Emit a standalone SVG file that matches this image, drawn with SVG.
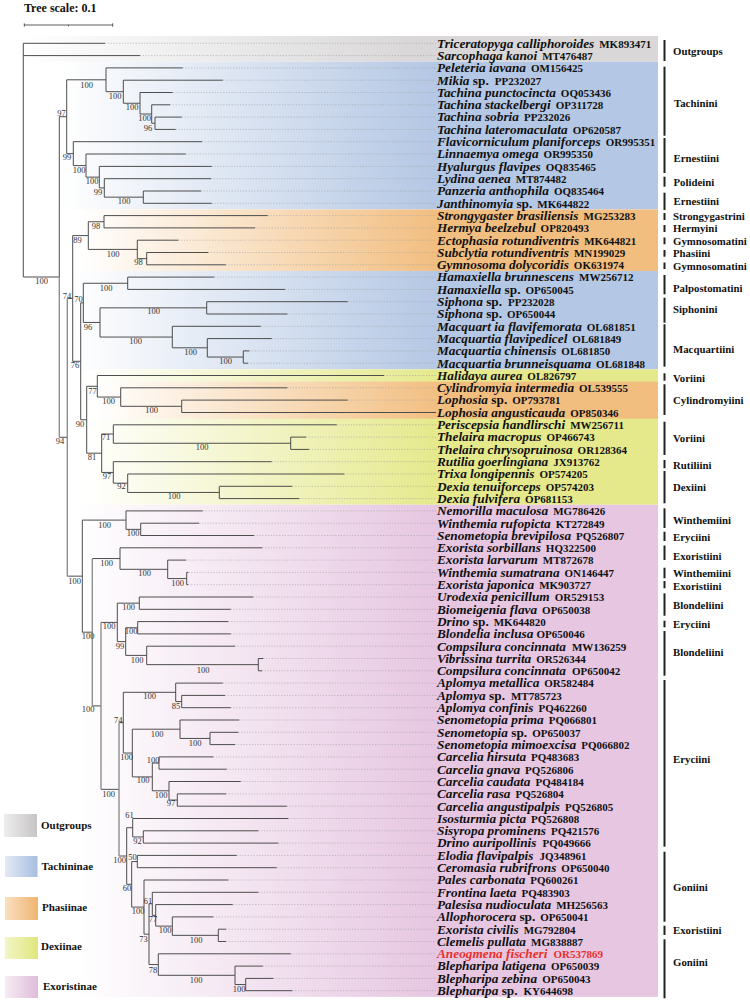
<svg xmlns="http://www.w3.org/2000/svg" width="750" height="1003" viewBox="0 0 750 1003">
<defs>
<linearGradient id="gGray" x1="0" y1="0" x2="1" y2="0"><stop offset="0" stop-color="#ffffff"/><stop offset="0.62" stop-color="#d9d7d7"/><stop offset="1" stop-color="#d9d7d7"/></linearGradient>
<linearGradient id="gBlue" x1="0" y1="0" x2="1" y2="0"><stop offset="0" stop-color="#ffffff"/><stop offset="0.63" stop-color="#b4c7e4"/><stop offset="1" stop-color="#b4c7e4"/></linearGradient>
<linearGradient id="gOrange" x1="0" y1="0" x2="1" y2="0"><stop offset="0" stop-color="#ffffff"/><stop offset="0.62" stop-color="#f2be80"/><stop offset="1" stop-color="#f2be80"/></linearGradient>
<linearGradient id="gYellow" x1="0" y1="0" x2="1" y2="0"><stop offset="0" stop-color="#ffffff"/><stop offset="0.62" stop-color="#e5e98b"/><stop offset="1" stop-color="#e5e98b"/></linearGradient>
<linearGradient id="gPink" x1="0" y1="0" x2="1" y2="0"><stop offset="0" stop-color="#ffffff"/><stop offset="0.62" stop-color="#e6c6e1"/><stop offset="1" stop-color="#e6c6e1"/></linearGradient>
<linearGradient id="sGray" x1="0" y1="0" x2="1" y2="0"><stop offset="0" stop-color="#efeeee"/><stop offset="1" stop-color="#c6c4c6"/></linearGradient>
<linearGradient id="sBlue" x1="0" y1="0" x2="1" y2="0"><stop offset="0" stop-color="#e3eaf5"/><stop offset="1" stop-color="#a8bee0"/></linearGradient>
<linearGradient id="sOrange" x1="0" y1="0" x2="1" y2="0"><stop offset="0" stop-color="#fae0c2"/><stop offset="1" stop-color="#efb470"/></linearGradient>
<linearGradient id="sYellow" x1="0" y1="0" x2="1" y2="0"><stop offset="0" stop-color="#f3f5c8"/><stop offset="1" stop-color="#e0e67c"/></linearGradient>
<linearGradient id="sPink" x1="0" y1="0" x2="1" y2="0"><stop offset="0" stop-color="#f6ecf4"/><stop offset="1" stop-color="#dfbcd9"/></linearGradient>
<style>
.br{fill:none;stroke:#4d4d4d;stroke-width:1}
.lt{fill:none;stroke:#8f8f8f;stroke-width:1.4}
.dt{fill:none;stroke:#a0a0a0;stroke-width:0.6;stroke-dasharray:1.2 1.6}
.bs{font-family:"Liberation Serif",serif;font-size:8.5px;fill:#333;text-anchor:middle}
.lf{font-family:"Liberation Serif",serif;font-weight:bold;fill:#111}
.n{font-style:italic;font-size:13.3px}
.u{font-size:13.3px}
.a{font-size:11px}
.red{fill:#e8302a}
.tr{font-family:"Liberation Serif",serif;font-weight:bold;font-size:10.8px;fill:#111}
.bar{stroke:#222;stroke-width:2;fill:none}
.lg{font-family:"Liberation Serif",serif;font-weight:bold;font-size:11px;fill:#111}
</style>
</defs>
<rect width="750" height="1003" fill="#ffffff"/>

<g id="scale">
<text x="24" y="11.7" class="lg" style="font-size:12px">Tree scale: 0.1</text>
<path d="M24.3 25 H112.7 M24.3 23.3 V26.7 M112.7 23.3 V26.7 M68.5 25 V26.3" stroke="#333" stroke-width="0.8" fill="none"/>
</g>

<g id="bands">
<rect x="20" y="36" width="638" height="25.75" fill="url(#gGray)"/>
<rect x="60" y="61.75" width="598" height="147.7" fill="url(#gBlue)"/>
<rect x="80" y="209.45" width="578" height="61.5" fill="url(#gOrange)"/>
<rect x="72" y="270.95" width="586" height="98.4" fill="url(#gBlue)"/>
<rect x="85" y="369.35" width="573" height="135.4" fill="url(#gYellow)"/>
<rect x="95" y="381.65" width="563" height="37" fill="url(#gOrange)"/>
<rect x="78" y="504.75" width="580" height="492.1" fill="url(#gPink)"/>
</g>

<g id="leaders">
<path class="dt" d="M105 43.3H436M140 55.6H436M182.7 67.9H436M222.7 80.2H436M172.7 92.5H436M170 104.8H436M181.7 117.1H436M175.7 129.4H436M202 141.7H436M185.7 154H436M211.7 166.4H436M211 178.7H436M201 191H436M211.7 203.3H436M267.7 215.6H436M255 227.9H436M178.3 240.2H436M208.3 252.5H436M225.7 264.8H436M214.3 277.1H436M285 289.4H436M347.7 301.7H436M287.3 314H436M260.7 326.3H436M271.7 338.6H436M249.3 350.9H436M248 363.2H436M384 375.5H436M287.3 387.8H436M347.7 400.1H436M336.7 424.8H436M306 437.1H436M309 449.4H436M271.7 461.7H436M344.3 474H436M292.3 486.3H436M299.3 498.6H436M202.7 510.9H436M199 523.2H436M254 535.5H436M262.3 547.8H436M186 560.1H436M188.3 572.4H436M188.3 584.7H436M253.3 597H436M230.7 609.3H436M228.3 621.6H436M230.7 633.9H436M235 646.2H436M263.3 658.5H436M262 670.8H436M222.7 683.1H436M225 695.4H436M230.7 707.7H436M239.3 720H436M238.3 732.3H436M235 744.6H436M213.3 756.9H436M226.7 769.2H436M240.7 781.5H436M226 793.9H436M286.7 806.2H436M288.3 818.5H436M258.3 830.8H436M278.3 843.1H436M236.7 855.4H436M276.7 867.7H436M228.3 880H436M258.3 892.3H436M232.7 904.6H436M213.3 916.9H436M226 929.2H436M226 941.5H436M290.7 953.8H436M262.7 966.1H436M273.3 978.4H436M292.3 990.7H436"/>
</g>

<g id="connectors">
<path class="br" d="M23.3 43.3V277M23.3 43.3H105M23.3 55.6H140M23.3 277H59.3
M59.3 116.7V277M59.3 116.7H66.7M59.3 437.3H67.3
M66.7 79.8V153.65H73.3M66.7 79.8H106
M106 67.9V91.7H123.3M106 67.9H182.7
M123.3 80.2V103.25H140M123.3 80.2H222.7
M140 92.5V114H151.7M140 92.5H172.7
M151.7 104.8V123.25H155M151.7 104.8H170
M155 117.1V129.4H175.7M155 117.1H181.7
M73.3 141.7V165.6H86M73.3 141.7H202
M86 154V177.15H99.3M86 154H185.7
M99.3 166.4V187.9H104.3M99.3 166.4H211.7
M104.3 178.7V197.15H143.3M104.3 178.7H211
M143.3 191V203.3H211.7M143.3 191H201
M67.3 576.15H82.3M67.3 298.45H72.7
M72.7 235.6V361.3H80.7M72.7 235.6H88.3
M88.3 221.75V249.4H137.3M88.3 221.75H104
M104 215.6V227.9H255M104 215.6H267.7
M137.3 240.2V258.65H146.7M137.3 240.2H178.3
M146.7 252.5V264.8H225.7M146.7 252.5H208.3
M80.7 302.85V419.75H86.7M80.7 302.85H83.3
M83.3 283.25V322.45H100M83.3 283.25H127.7
M127.7 277.1V289.4H285M127.7 277.1H214.3
M100 307.85V337.05H172.3M100 307.85H206.7
M206.7 301.7V314H287.3M206.7 301.7H347.7
M172.3 326.3V347.8H207.3M172.3 326.3H260.7
M207.3 338.6V357.05H243.3M207.3 338.6H271.7
M243.3 350.9V363.2H248M243.3 350.9H249.3
M86.7 386.3V453.2H101.7M86.7 386.3H97.3
M97.3 375.5V397.05H120.7M97.3 375.5H384
M120.7 387.8V406.3H181.7M120.7 387.8H287.3
M181.7 400.1V412.5H436M181.7 400.1H347.7
M101.7 434V472.45H113.3M101.7 434H113.3
M113.3 424.8V443.25H290.7M113.3 424.8H336.7
M290.7 437.1V449.4H309M290.7 437.1H306
M113.3 461.7V483.2H127.7M113.3 461.7H271.7
M127.7 474V492.45H219.3M127.7 474H344.3
M219.3 486.3V498.6H299.3M219.3 486.3H292.3
M82.3 520.1V632.2H92.3M82.3 520.1H126
M126 510.9V529.35H140.7M126 510.9H202.7
M140.7 523.2V535.5H254M140.7 523.2H199
M92.3 705.9H101M92.3 558.55H120
M120 547.8V569.3H167.7M120 547.8H262.3
M167.7 560.1V578.55H186.7M167.7 560.1H186
M186.7 572.4V584.7H188.3M186.7 572.4H188.3
M101 789.35H119M101 622.4H117.3
M117.3 603.15V641.6H125.7M117.3 603.15H139.3
M139.3 597V609.3H230.7M139.3 597H253.3
M125.7 627.75V655.4H146.7M125.7 627.75H137.7
M137.7 621.6V633.9H230.7M137.7 621.6H228.3
M146.7 646.2V664.65H258.3M146.7 646.2H235
M258.3 658.5V670.8H262M258.3 658.5H263.3
M119 856H126.7M119 722.7H123.3
M123.3 692.3V753.05H132.3M123.3 692.3H175.7
M175.7 683.1V701.55H181.7M175.7 683.1H222.7
M181.7 695.4V707.7H230.7M181.7 695.4H225
M132.3 729.2V776.9H152.3M132.3 729.2H180
M180 720V738.45H210M180 720H239.3
M210 732.3V744.6H235M210 732.3H238.3
M152.3 763.05V790.8H169M152.3 763.05H159
M159 756.9V769.2H226.7M159 756.9H213.3
M169 781.5V800.05H177.3M169 781.5H240.7
M177.3 793.9V806.2H286.7M177.3 793.9H226
M126.7 827.7V884.3H131.7M126.7 827.7H132.7
M132.7 818.5V836.95H143.3M132.7 818.5H288.3
M143.3 830.8V843.1H278.3M143.3 830.8H258.3
M131.7 861.55V907.1H144M131.7 861.55H137.3
M137.3 855.4V867.7H276.7M137.3 855.4H236.7
M144 880V934.2H149M144 880H228.3
M149 903.8V964.55H158.3M149 903.8H152.3
M152.3 892.3V915.35H155.7M152.3 892.3H258.3
M155.7 904.6V926.1H172.3M155.7 904.6H232.7
M172.3 916.9V935.35H218.3M172.3 916.9H213.3
M218.3 929.2V941.5H226M218.3 929.2H226
M158.3 953.8V975.3H235M158.3 953.8H290.7
M235 966.1V984.55H245.7M235 966.1H262.7
M245.7 978.4V990.7H292.3M245.7 978.4H273.3"/>
<path class="lt" d="M59.3 277V437.3M67.3 298.45V576.15M92.3 558.55V705.9M101 622.4V789.35M119 722.7V856"/>
</g>

<g id="support">
<text class="bs" x="41.7" y="284">100</text>
<text class="bs" x="61.5" y="115.5">97</text>
<text class="bs" x="60" y="444">94</text>
<text class="bs" x="86.5" y="87.5">100</text>
<text class="bs" x="115" y="98.5">100</text>
<text class="bs" x="132" y="110">100</text>
<text class="bs" x="144.5" y="121">100</text>
<text class="bs" x="148" y="131">96</text>
<text class="bs" x="67" y="160">99</text>
<text class="bs" x="79" y="172.5">100</text>
<text class="bs" x="92" y="183.5">100</text>
<text class="bs" x="98" y="195">99</text>
<text class="bs" x="124" y="204">100</text>
<text class="bs" x="96" y="229">98</text>
<text class="bs" x="77.5" y="242.5">89</text>
<text class="bs" x="113" y="257">100</text>
<text class="bs" x="138.5" y="265">98</text>
<text class="bs" x="67" y="298.5">74</text>
<text class="bs" x="78.5" y="301.5">70</text>
<text class="bs" x="106" y="290.5">100</text>
<text class="bs" x="88" y="330">96</text>
<text class="bs" x="153.5" y="314">100</text>
<text class="bs" x="135.5" y="344">100</text>
<text class="bs" x="190.5" y="355">100</text>
<text class="bs" x="225.5" y="364">100</text>
<text class="bs" x="75" y="368">76</text>
<text class="bs" x="92.5" y="394">77</text>
<text class="bs" x="108.5" y="404">100</text>
<text class="bs" x="151.5" y="413">100</text>
<text class="bs" x="80" y="427">90</text>
<text class="bs" x="106" y="440">71</text>
<text class="bs" x="202" y="450">100</text>
<text class="bs" x="92" y="460">81</text>
<text class="bs" x="107" y="479">97</text>
<text class="bs" x="121.5" y="489">92</text>
<text class="bs" x="174" y="499">100</text>
<text class="bs" x="74.5" y="583.5">100</text>
<text class="bs" x="104.5" y="527.5">100</text>
<text class="bs" x="133" y="536">100</text>
<text class="bs" x="88" y="639">100</text>
<text class="bs" x="106.5" y="566">100</text>
<text class="bs" x="144.5" y="576">100</text>
<text class="bs" x="177.5" y="586">100</text>
<text class="bs" x="88" y="711.5">100</text>
<text class="bs" x="109" y="629">100</text>
<text class="bs" x="128.5" y="610">100</text>
<text class="bs" x="120" y="648.5">99</text>
<text class="bs" x="131" y="634">100</text>
<text class="bs" x="137" y="662.5">100</text>
<text class="bs" x="203" y="672.5">100</text>
<text class="bs" x="149.5" y="699">100</text>
<text class="bs" x="176" y="709">85</text>
<text class="bs" x="118.3" y="722.5">74</text>
<text class="bs" x="157" y="737">100</text>
<text class="bs" x="195" y="746">100</text>
<text class="bs" x="126.5" y="760">100</text>
<text class="bs" x="153" y="762.5">100</text>
<text class="bs" x="143" y="783">100</text>
<text class="bs" x="161" y="798">100</text>
<text class="bs" x="171" y="805.5">97</text>
<text class="bs" x="108.5" y="797">100</text>
<text class="bs" x="129.5" y="818">61</text>
<text class="bs" x="137.5" y="844">92</text>
<text class="bs" x="119.5" y="862.5">100</text>
<text class="bs" x="132.5" y="860">50</text>
<text class="bs" x="127" y="891">60</text>
<text class="bs" x="138" y="914">100</text>
<text class="bs" x="148" y="903.5">61</text>
<text class="bs" x="153" y="921.5">77</text>
<text class="bs" x="165" y="933">100</text>
<text class="bs" x="196" y="942.5">100</text>
<text class="bs" x="143.5" y="941.5">73</text>
<text class="bs" x="153" y="973">78</text>
<text class="bs" x="196" y="982.5">100</text>
<text class="bs" x="239" y="992">100</text>
</g>

<g id="leaves">
<g id="leaf01"><text class="lf" x="437" y="47.6"><tspan class="n">Triceratopyga calliphoroides</tspan><tspan class="a" dx="5">MK893471</tspan></text></g>
<g id="leaf02"><text class="lf" x="437" y="59.9"><tspan class="n">Sarcophaga kanoi</tspan><tspan class="a" dx="5">MT476487</tspan></text></g>
<g id="leaf03"><text class="lf" x="437" y="72.2"><tspan class="n">Peleteria iavana</tspan><tspan class="a" dx="5">OM156425</tspan></text></g>
<g id="leaf04"><text class="lf" x="437" y="84.5"><tspan class="n">Mikia</tspan><tspan class="u"> sp.</tspan><tspan class="a" dx="6">PP232027</tspan></text></g>
<g id="leaf05"><text class="lf" x="437" y="96.8"><tspan class="n">Tachina punctocincta</tspan><tspan class="a" dx="5">OQ053436</tspan></text></g>
<g id="leaf06"><text class="lf" x="437" y="109.1"><tspan class="n">Tachina stackelbergi</tspan><tspan class="a" dx="5">OP311728</tspan></text></g>
<g id="leaf07"><text class="lf" x="437" y="121.4"><tspan class="n">Tachina sobria</tspan><tspan class="a" dx="5">PP232026</tspan></text></g>
<g id="leaf08"><text class="lf" x="437" y="133.7"><tspan class="n">Tachina lateromaculata</tspan><tspan class="a" dx="5">OP620587</tspan></text></g>
<g id="leaf09"><text class="lf" x="437" y="146"><tspan class="n">Flavicorniculum planiforceps</tspan><tspan class="a" dx="5">OR995351</tspan></text></g>
<g id="leaf10"><text class="lf" x="437" y="158.3"><tspan class="n">Linnaemya omega</tspan><tspan class="a" dx="5">OR995350</tspan></text></g>
<g id="leaf11"><text class="lf" x="437" y="170.7"><tspan class="n">Hyalurgus flavipes</tspan><tspan class="a" dx="5">OQ835465</tspan></text></g>
<g id="leaf12"><text class="lf" x="437" y="183"><tspan class="n">Lydina aenea</tspan><tspan class="a" dx="5">MT874482</tspan></text></g>
<g id="leaf13"><text class="lf" x="437" y="195.3"><tspan class="n">Panzeria anthophila</tspan><tspan class="a" dx="5">OQ835464</tspan></text></g>
<g id="leaf14"><text class="lf" x="437" y="207.6"><tspan class="n">Janthinomyia</tspan><tspan class="u"> sp.</tspan><tspan class="a" dx="5">MK644822</tspan></text></g>
<g id="leaf15"><text class="lf" x="437" y="219.9"><tspan class="n">Strongygaster brasiliensis</tspan><tspan class="a" dx="5">MG253283</tspan></text></g>
<g id="leaf16"><text class="lf" x="437" y="232.2"><tspan class="n">Hermya beelzebul</tspan><tspan class="a" dx="5">OP820493</tspan></text></g>
<g id="leaf17"><text class="lf" x="437" y="244.5"><tspan class="n">Ectophasia rotundiventris</tspan><tspan class="a" dx="5">MK644821</tspan></text></g>
<g id="leaf18"><text class="lf" x="437" y="256.8"><tspan class="n">Subclytia rotundiventris</tspan><tspan class="a" dx="5">MN199029</tspan></text></g>
<g id="leaf19"><text class="lf" x="437" y="269.1"><tspan class="n">Gymnosoma dolycoridis</tspan><tspan class="a" dx="5">OK631974</tspan></text></g>
<g id="leaf20"><text class="lf" x="437" y="281.4"><tspan class="n">Hamaxiella brunnescens</tspan><tspan class="a" dx="5">MW256712</tspan></text></g>
<g id="leaf21"><text class="lf" x="437" y="293.7"><tspan class="n">Hamaxiella</tspan><tspan class="u"> sp.</tspan><tspan class="a" dx="5">OP650045</tspan></text></g>
<g id="leaf22"><text class="lf" x="437" y="306"><tspan class="n">Siphona</tspan><tspan class="u"> sp.</tspan><tspan class="a" dx="6">PP232028</tspan></text></g>
<g id="leaf23"><text class="lf" x="437" y="318.3"><tspan class="n">Siphona</tspan><tspan class="u"> sp.</tspan><tspan class="a" dx="5">OP650044</tspan></text></g>
<g id="leaf24"><text class="lf" x="437" y="330.6"><tspan class="n">Macquart ia flavifemorata</tspan><tspan class="a" dx="5">OL681851</tspan></text></g>
<g id="leaf25"><text class="lf" x="437" y="342.9"><tspan class="n">Macquartia flavipedicel</tspan><tspan class="a" dx="5">OL681849</tspan></text></g>
<g id="leaf26"><text class="lf" x="437" y="355.2"><tspan class="n">Macquartia chinensis</tspan><tspan class="a" dx="5">OL681850</tspan></text></g>
<g id="leaf27"><text class="lf" x="437" y="367.5"><tspan class="n">Macquartia brunneisquama</tspan><tspan class="a" dx="5">OL681848</tspan></text></g>
<g id="leaf28"><text class="lf" x="437" y="379.8"><tspan class="n">Halidaya aurea</tspan><tspan class="a" dx="5">OL826797</tspan></text></g>
<g id="leaf29"><text class="lf" x="437" y="392.1"><tspan class="n">Cylindromyia intermedia</tspan><tspan class="a" dx="5">OL539555</tspan></text></g>
<g id="leaf30"><text class="lf" x="437" y="404.4"><tspan class="n">Lophosia</tspan><tspan class="u"> sp.</tspan><tspan class="a" dx="5">OP793781</tspan></text></g>
<g id="leaf31"><text class="lf" x="437" y="416.8"><tspan class="n">Lophosia angusticauda</tspan><tspan class="a" dx="5">OP850346</tspan></text></g>
<g id="leaf32"><text class="lf" x="437" y="429.1"><tspan class="n">Periscepsia handlirschi</tspan><tspan class="a" dx="5">MW256711</tspan></text></g>
<g id="leaf33"><text class="lf" x="437" y="441.4"><tspan class="n">Thelaira macropus</tspan><tspan class="a" dx="5">OP466743</tspan></text></g>
<g id="leaf34"><text class="lf" x="437" y="453.7"><tspan class="n">Thelaira chrysopruinosa</tspan><tspan class="a" dx="5">OR128364</tspan></text></g>
<g id="leaf35"><text class="lf" x="437" y="466"><tspan class="n">Rutilia goerlingiana</tspan><tspan class="a" dx="5">JX913762</tspan></text></g>
<g id="leaf36"><text class="lf" x="437" y="478.3"><tspan class="n">Trixa longipennis</tspan><tspan class="a" dx="5">OP574205</tspan></text></g>
<g id="leaf37"><text class="lf" x="437" y="490.6"><tspan class="n">Dexia tenuiforceps</tspan><tspan class="a" dx="5">OP574203</tspan></text></g>
<g id="leaf38"><text class="lf" x="437" y="502.9"><tspan class="n">Dexia fulvifera</tspan><tspan class="a" dx="5">OP681153</tspan></text></g>
<g id="leaf39"><text class="lf" x="437" y="515.2"><tspan class="n">Nemorilla maculosa</tspan><tspan class="a" dx="5">MG786426</tspan></text></g>
<g id="leaf40"><text class="lf" x="437" y="527.5"><tspan class="n">Winthemia rufopicta</tspan><tspan class="a" dx="5">KT272849</tspan></text></g>
<g id="leaf41"><text class="lf" x="437" y="539.8"><tspan class="n">Senometopia brevipilosa</tspan><tspan class="a" dx="5">PQ526807</tspan></text></g>
<g id="leaf42"><text class="lf" x="437" y="552.1"><tspan class="n">Exorista sorbillans</tspan><tspan class="a" dx="5">HQ322500</tspan></text></g>
<g id="leaf43"><text class="lf" x="437" y="564.4"><tspan class="n">Exorista larvarum</tspan><tspan class="a" dx="5">MT872678</tspan></text></g>
<g id="leaf44"><text class="lf" x="437" y="576.7"><tspan class="n">Winthemia sumatrana</tspan><tspan class="a" dx="5">ON146447</tspan></text></g>
<g id="leaf45"><text class="lf" x="437" y="589"><tspan class="n">Exorista japonica</tspan><tspan class="a" dx="5">MK903727</tspan></text></g>
<g id="leaf46"><text class="lf" x="437" y="601.3"><tspan class="n">Urodexia penicillum</tspan><tspan class="a" dx="5">OR529153</tspan></text></g>
<g id="leaf47"><text class="lf" x="437" y="613.6"><tspan class="n">Biomeigenia flava</tspan><tspan class="a" dx="5">OP650038</tspan></text></g>
<g id="leaf48"><text class="lf" x="437" y="625.9"><tspan class="n">Drino</tspan><tspan class="u"> sp.</tspan><tspan class="a" dx="5">MK644820</tspan></text></g>
<g id="leaf49"><text class="lf" x="437" y="638.2"><tspan class="n">Blondelia inclusa</tspan><tspan class="a" dx="3">OP650046</tspan></text></g>
<g id="leaf50"><text class="lf" x="437" y="650.5"><tspan class="n">Compsilura concinnata</tspan><tspan class="a" dx="6">MW136259</tspan></text></g>
<g id="leaf51"><text class="lf" x="437" y="662.8"><tspan class="n">Vibrissina turrita</tspan><tspan class="a" dx="5">OR526344</tspan></text></g>
<g id="leaf52"><text class="lf" x="437" y="675.1"><tspan class="n">Compsilura concinnata</tspan><tspan class="a" dx="6">OP650042</tspan></text></g>
<g id="leaf53"><text class="lf" x="437" y="687.4"><tspan class="n">Aplomya metallica</tspan><tspan class="a" dx="5">OR582484</tspan></text></g>
<g id="leaf54"><text class="lf" x="437" y="699.7"><tspan class="n">Aplomya</tspan><tspan class="u"> sp.</tspan><tspan class="a" dx="6">MT785723</tspan></text></g>
<g id="leaf55"><text class="lf" x="437" y="712"><tspan class="n">Aplomya confinis</tspan><tspan class="a" dx="5">PQ462260</tspan></text></g>
<g id="leaf56"><text class="lf" x="437" y="724.3"><tspan class="n">Senometopia prima</tspan><tspan class="a" dx="5">PQ066801</tspan></text></g>
<g id="leaf57"><text class="lf" x="437" y="736.6"><tspan class="n">Senometopia</tspan><tspan class="u"> sp.</tspan><tspan class="a" dx="5">OP650037</tspan></text></g>
<g id="leaf58"><text class="lf" x="437" y="748.9"><tspan class="n">Senometopia mimoexcisa</tspan><tspan class="a" dx="5">PQ066802</tspan></text></g>
<g id="leaf59"><text class="lf" x="437" y="761.2"><tspan class="n">Carcelia hirsuta</tspan><tspan class="a" dx="5">PQ483683</tspan></text></g>
<g id="leaf60"><text class="lf" x="437" y="773.5"><tspan class="n">Carcelia gnava</tspan><tspan class="a" dx="5">PQ526806</tspan></text></g>
<g id="leaf61"><text class="lf" x="437" y="785.8"><tspan class="n">Carcelia caudata</tspan><tspan class="a" dx="5">PQ484184</tspan></text></g>
<g id="leaf62"><text class="lf" x="437" y="798.2"><tspan class="n">Carcelia rasa</tspan><tspan class="a" dx="5">PQ526804</tspan></text></g>
<g id="leaf63"><text class="lf" x="437" y="810.5"><tspan class="n">Carcelia angustipalpis</tspan><tspan class="a" dx="5">PQ526805</tspan></text></g>
<g id="leaf64"><text class="lf" x="437" y="822.8"><tspan class="n">Isosturmia picta</tspan><tspan class="a" dx="5">PQ526808</tspan></text></g>
<g id="leaf65"><text class="lf" x="437" y="835.1"><tspan class="n">Sisyropa prominens</tspan><tspan class="a" dx="5">PQ421576</tspan></text></g>
<g id="leaf66"><text class="lf" x="437" y="847.4"><tspan class="n">Drino auripollinis</tspan><tspan class="a" dx="6">PQ049666</tspan></text></g>
<g id="leaf67"><text class="lf" x="437" y="859.7"><tspan class="n">Elodia flavipalpis</tspan><tspan class="a" dx="6">JQ348961</tspan></text></g>
<g id="leaf68"><text class="lf" x="437" y="872"><tspan class="n">Ceromasia rubrifrons</tspan><tspan class="a" dx="5">OP650040</tspan></text></g>
<g id="leaf69"><text class="lf" x="437" y="884.3"><tspan class="n">Pales carbonata</tspan><tspan class="a" dx="5">PQ600261</tspan></text></g>
<g id="leaf70"><text class="lf" x="437" y="896.6"><tspan class="n">Frontina laeta</tspan><tspan class="a" dx="5">PQ483903</tspan></text></g>
<g id="leaf71"><text class="lf" x="437" y="908.9"><tspan class="n">Palesisa nudioculata</tspan><tspan class="a" dx="5">MH256563</tspan></text></g>
<g id="leaf72"><text class="lf" x="437" y="921.2"><tspan class="n">Allophorocera</tspan><tspan class="u"> sp.</tspan><tspan class="a" dx="5">OP650041</tspan></text></g>
<g id="leaf73"><text class="lf" x="437" y="933.5"><tspan class="n">Exorista civilis</tspan><tspan class="a" dx="5">MG792804</tspan></text></g>
<g id="leaf74"><text class="lf" x="437" y="945.8"><tspan class="n">Clemelis pullata</tspan><tspan class="a" dx="5">MG838887</tspan></text></g>
<g id="leaf75"><text class="lf red" x="437" y="958.1"><tspan class="n">Aneogmena fischeri</tspan><tspan class="a" dx="6">OR537869</tspan></text></g>
<g id="leaf76"><text class="lf" x="437" y="970.4"><tspan class="n">Blepharipa latigena</tspan><tspan class="a" dx="5">OP650039</tspan></text></g>
<g id="leaf77"><text class="lf" x="437" y="982.7"><tspan class="n">Blepharipa zebina</tspan><tspan class="a" dx="5">OP650043</tspan></text></g>
<g id="leaf78"><text class="lf" x="437" y="995"><tspan class="n">Blepharipa</tspan><tspan class="u"> sp.</tspan><tspan class="a" dx="6">KY644698</tspan></text></g>
</g>

<g id="tribes">
<g id="t01"><path class="bar" d="M664.5 40V61"/><text class="tr" x="673" y="54.5">Outgroups</text></g>
<g id="t02"><path class="bar" d="M664.5 66.7V135.7"/><text class="tr" x="674" y="106.5">Tachinini</text></g>
<g id="t03"><path class="bar" d="M664.5 138V173"/><text class="tr" x="673.5" y="161.8">Ernestiini</text></g>
<g id="t04"><path class="bar" d="M664.5 176.7V186.7"/><text class="tr" x="673.5" y="185.8">Polideini</text></g>
<g id="t05"><path class="bar" d="M664.5 192.7V210"/><text class="tr" x="673.5" y="204.8">Ernestiini</text></g>
<g id="t06"><path class="bar" d="M664.5 213V220"/><text class="tr" x="673" y="219.8">Strongygastrini</text></g>
<g id="t07"><path class="bar" d="M664.5 225V232"/><text class="tr" x="673" y="231.8">Hermyini</text></g>
<g id="t08"><path class="bar" d="M664.5 237.5V244.3"/><text class="tr" x="673" y="244.8">Gymnosomatini</text></g>
<g id="t09"><path class="bar" d="M664.5 250V256.7"/><text class="tr" x="673" y="256.8">Phasiini</text></g>
<g id="t10"><path class="bar" d="M664.5 262.5V269"/><text class="tr" x="673" y="269.8">Gymnosomatini</text></g>
<g id="t11"><path class="bar" d="M664.5 275V294.3"/><text class="tr" x="673" y="291.8">Palpostomatini</text></g>
<g id="t12"><path class="bar" d="M664.5 297.7V322.7"/><text class="tr" x="673" y="312.8">Siphonini</text></g>
<g id="t13"><path class="bar" d="M664.5 324.3V366.7"/><text class="tr" x="673" y="352.8">Macquartiini</text></g>
<g id="t14"><path class="bar" d="M664.5 373.3V380.7"/><text class="tr" x="673" y="381.5">Voriini</text></g>
<g id="t15"><path class="bar" d="M664.5 384.3V415"/><text class="tr" x="673" y="403.8">Cylindromyiini</text></g>
<g id="t16"><path class="bar" d="M664.5 421.7V455"/><text class="tr" x="673" y="441.5">Voriini</text></g>
<g id="t17"><path class="bar" d="M664.5 460V468.3"/><text class="tr" x="673" y="468.8">Rutiliini</text></g>
<g id="t18"><path class="bar" d="M664.5 471V503.3"/><text class="tr" x="673" y="490.5">Dexiini</text></g>
<g id="t19"><path class="bar" d="M664.5 508.3V528"/><text class="tr" x="673" y="523.8">Winthemiini</text></g>
<g id="t20"><path class="bar" d="M664.5 531.7V541"/><text class="tr" x="673" y="540.5">Eryciini</text></g>
<g id="t21"><path class="bar" d="M664.5 545.5V560"/><text class="tr" x="673" y="559.5">Exoristiini</text></g>
<g id="t22"><path class="bar" d="M664.5 567.7V578.3"/><text class="tr" x="673" y="576.8">Winthemiini</text></g>
<g id="t23"><path class="bar" d="M664.5 581V588.3"/><text class="tr" x="673" y="589.5">Exoristiini</text></g>
<g id="t24"><path class="bar" d="M664.5 593.3V615.7"/><text class="tr" x="673" y="608.8">Blondeliini</text></g>
<g id="t25"><path class="bar" d="M664.5 620.7V627.3"/><text class="tr" x="673" y="627.8">Eryciini</text></g>
<g id="t26"><path class="bar" d="M664.5 631V675.7"/><text class="tr" x="673" y="655.8">Blondeliini</text></g>
<g id="t27"><path class="bar" d="M664.5 680V846.7"/><text class="tr" x="673" y="762.8">Eryciini</text></g>
<g id="t28"><path class="bar" d="M664.5 851.7V921.7"/><text class="tr" x="673" y="890.8">Goniini</text></g>
<g id="t29"><path class="bar" d="M664.5 925.7V935"/><text class="tr" x="673" y="933.8">Exoristiini</text></g>
<g id="t30"><path class="bar" d="M664.5 939.3V998.3"/><text class="tr" x="673" y="965.8">Goniini</text></g>
</g>

<g id="legend">
<g id="lg1"><rect x="4" y="814" width="33" height="23" fill="url(#sGray)"/><text class="lg" x="41" y="828.5">Outgroups</text></g>
<g id="lg2"><rect x="5" y="856" width="32.5" height="21" fill="url(#sBlue)"/><text class="lg" x="41.5" y="869.5">Tachininae</text></g>
<g id="lg3"><rect x="5" y="897" width="33" height="23" fill="url(#sOrange)"/><text class="lg" x="42" y="910.5">Phasiinae</text></g>
<g id="lg4"><rect x="5" y="937" width="33" height="22" fill="url(#sYellow)"/><text class="lg" x="41" y="949.5">Dexiinae</text></g>
<g id="lg5"><rect x="5" y="976" width="33" height="22" fill="url(#sPink)"/><text class="lg" x="43" y="990">Exoristinae</text></g>
</g>
</svg>
